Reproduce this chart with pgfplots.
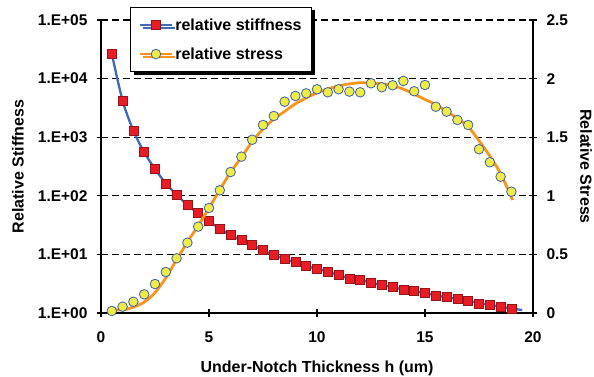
\documentclass[border=0pt]{standalone}
\usepackage{fontspec}
\setmainfont{Liberation Sans}
\usepackage{pgfplots}
\pgfplotsset{compat=1.18}
\usetikzlibrary{shadows}

\definecolor{stiffblue}{RGB}{66,104,186}
\definecolor{sqred}{RGB}{232,28,36}
\definecolor{sqedge}{RGB}{150,20,25}
\definecolor{fitorange}{RGB}{247,148,29}
\definecolor{dotyellow}{RGB}{240,236,70}
\definecolor{dotedge}{RGB}{60,95,175}

% relative stiffness (log scale, left axis)
\pgfplotstableread{
h S
0.5 26600
1.0 4200
1.5 1290
2.0 552
2.5 287
3.0 163
3.5 104
4.0 69.7
4.5 50.2
5.0 36.7
5.5 27.5
6.0 21.2
6.5 17.4
7.0 14.5
7.5 11.8
8.0 9.77
8.5 8.35
9.0 7.33
9.5 6.34
10.0 5.63
10.5 5.07
11.0 4.45
11.5 3.90
12.0 3.66
12.5 3.29
13.0 3.01
13.5 2.74
14.0 2.53
14.5 2.37
15.0 2.17
15.5 2.00
16.0 1.85
16.5 1.73
17.0 1.62
17.5 1.46
18.0 1.39
18.5 1.28
19.0 1.20
}\stiffness

% relative stress (right axis), measured points
\pgfplotstableread{
h R
0.5 0.017
1.0 0.054
1.5 0.096
2.0 0.159
2.5 0.247
3.0 0.350
3.5 0.467
4.0 0.600
4.5 0.737
5.0 0.896
5.5 1.047
6.0 1.203
6.5 1.334
7.0 1.478
7.5 1.604
8.0 1.681
8.5 1.803
9.0 1.852
9.5 1.874
10.0 1.909
10.5 1.883
11.0 1.909
11.5 1.889
12.0 1.883
12.5 1.960
13.0 1.926
13.5 1.943
14.0 1.980
14.5 1.892
15.0 1.945
15.5 1.760
16.0 1.718
16.5 1.647
17.0 1.604
17.5 1.397
18.0 1.286
18.5 1.163
19.0 1.035
}\stress

% smoothed stress trend
\pgfplotstableread{
h R
0.5 0.030
1.0 0.026
1.5 0.050
2.0 0.093
2.5 0.173
3.0 0.300
3.5 0.455
4.0 0.605
4.5 0.745
5.0 0.895
5.5 1.052
6.0 1.200
6.5 1.328
7.0 1.462
7.5 1.570
8.0 1.655
8.5 1.720
9.0 1.785
9.5 1.835
10.0 1.878
10.5 1.912
11.0 1.937
11.5 1.955
12.0 1.965
12.5 1.962
13.0 1.955
13.5 1.940
14.0 1.910
14.5 1.868
15.0 1.822
15.5 1.778
16.0 1.720
16.5 1.660
17.0 1.590
17.5 1.470
18.0 1.340
18.5 1.190
19.06 0.964
}\stressfit

\pgfplotsset{
  common/.style={
    scale only axis, width=432pt, height=293pt,
    at={(0,0)}, anchor=south west,
    xmin=0, xmax=20,
    tick align=center, major tick length=8pt,
    every tick/.style={black, line width=1.3pt},
    axis line style={black, line width=2pt, -},
    tick label style={font=\bfseries\fontsize{15.5}{18}\selectfont},
    /pgf/number format/assume math mode=true,
    clip=false,
  },
}

\begin{document}
\begin{tikzpicture}
\begin{axis}[common,
  axis x line*=bottom, axis y line*=left,
  ymode=log, ymin=1, ymax=1e5,
  ytick={1,10,100,1000,10000,100000},
  yticklabels={1.E+00,1.E+01,1.E+02,1.E+03,1.E+04,1.E+05},
  yminorticks=false,
  xtick={0,5,10,15,20},
  yticklabel style={xshift=-6pt},
  xticklabel style={yshift=-11pt},
  ymajorgrids,
  grid style={black, line width=1.3pt, dash pattern=on 7pt off 4pt},
  xlabel={Under-Notch Thickness h (um)},
  ylabel={Relative Stiffness},
  every axis x label/.style={at={(rel axis cs:0.5,0)}, yshift=-55pt, anchor=center,
    font=\bfseries\fontsize{16}{19}\selectfont},
  every axis y label/.style={at={(rel axis cs:0,0.5)}, xshift=-83pt, rotate=90, anchor=center,
    font=\bfseries\fontsize{16}{19}\selectfont},
]
\addplot[stiffblue, line width=2.3pt, smooth, no marks] coordinates {(19.0,1.20) (19.5,1.12)};
\addplot[stiffblue, line width=2.3pt, smooth, mark=square*, mark size=4.5pt,
  mark options={fill=sqred, draw=sqedge, line width=0.7pt, solid}]
  table[x=h, y=S] {\stiffness};
\end{axis}

\begin{axis}[common,
  axis x line=none, axis y line*=right,
  ymin=0, ymax=2.5,
  ytick={0,0.5,1,1.5,2,2.5},
  yticklabel style={xshift=6pt},
  ylabel={Relative Stress},
  every axis y label/.style={at={(rel axis cs:1,0.5)}, xshift=53pt, rotate=-90, anchor=center,
    font=\bfseries\fontsize{16}{19}\selectfont},
  legend style={at={(rel axis cs:0.067,1.045)}, anchor=north west,
    draw=black, line width=1.2pt, fill=white,
    drop shadow={shadow xshift=3pt, shadow yshift=-3pt, fill=black, opacity=1},
    font=\bfseries\fontsize{16}{19}\selectfont,
    row sep=12pt, inner xsep=8pt, inner ysep=9pt,
    cells={anchor=west}},
  legend image code/.code={\draw[mark repeat=2, mark phase=2, #1]
    plot coordinates {(0pt,0pt) (16pt,0pt) (32pt,0pt)};},
]
\addlegendimage{stiffblue, line width=2.3pt, mark=square*, mark size=4.5pt,
  mark options={fill=sqred, draw=sqedge, line width=0.7pt, solid}}
\addlegendentry{relative stiffness}
\addlegendimage{fitorange, line width=2.8pt, mark=*, mark size=4.8pt,
  mark options={fill=dotyellow, draw=dotedge, line width=0.8pt, solid}}
\addlegendentry{relative stress}
\addplot[only marks, mark=*, mark size=4.8pt,
  mark options={fill=dotyellow, draw=dotedge, line width=0.8pt}, forget plot]
  table[x=h, y=R] {\stress};
\addplot[fitorange, line width=2.8pt, smooth, no marks, forget plot]
  table[x=h, y=R] {\stressfit};
\end{axis}

% page extent
\pgfresetboundingbox
\path (-101pt,-64pt) rectangle (493pt,313pt);
\end{tikzpicture}
\end{document}
